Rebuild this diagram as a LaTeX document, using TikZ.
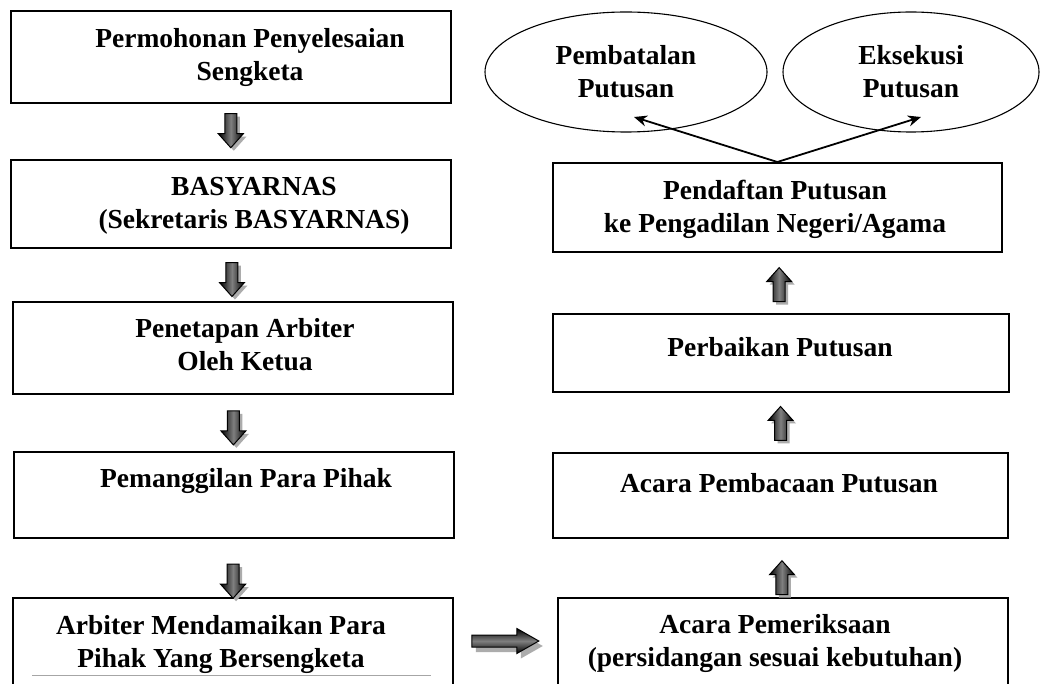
\documentclass[tikz,border=0pt]{standalone}
\usepackage{fontspec}
\setmainfont{Liberation Serif}
\usetikzlibrary{shapes.geometric,calc,arrows.meta}
\newcommand\blockV[2]{%
  \begin{scope}[shift={(#1)}]
    \fill[gray!65, shift={(3,3)}, yscale=#2] (-6,-17) -- (6,-17) -- (6,3) -- (12.5,3) -- (0,17) -- (-12.5,3) -- (-6,3) -- cycle;
    \path[draw=black, line width=1pt, left color=black, right color=black, middle color=black!50, yscale=#2] (-6,-17) -- (6,-17) -- (6,3) -- (12.5,3) -- (0,17) -- (-12.5,3) -- (-6,3) -- cycle;
  \end{scope}}
\newcommand\blockH[1]{%
  \begin{scope}[shift={(#1)}]
    \fill[gray!65, shift={(4,5)}] (-33.5,-6) -- (11.5,-6) -- (11.5,-12.5) -- (33.5,0) -- (11.5,12.5) -- (11.5,6) -- (-33.5,6) -- cycle;
    \path[draw=black, line width=1pt, top color=black, bottom color=black, middle color=black!50] (-33.5,-6) -- (11.5,-6) -- (11.5,-12.5) -- (33.5,0) -- (11.5,12.5) -- (11.5,6) -- (-33.5,6) -- cycle;
  \end{scope}}
\begin{document}
\begin{tikzpicture}[x=1pt,y=-1pt,
  box/.style={draw=black, line width=1.6pt, anchor=north west, inner sep=0pt},
  txt/.style={font=\fontsize{27.5}{33}\selectfont\bfseries, align=center, inner sep=0pt},
  oval/.style={draw=black, ellipse, line width=1.1pt, inner sep=0pt, txt},
  conn/.style={line width=1.8pt, -{Stealth[length=13pt,width=11pt]}}]
\useasboundingbox (0,0) rectangle (1054,684);
\clip (0,0) rectangle (1054,684);
\fill[white] (0,0) rectangle (1054,684);
% left column boxes
\node[box, minimum width=440pt, minimum height=92pt] (L1) at (10,10) {};
\node[box, minimum width=440pt, minimum height=88pt] (L2) at (10,159) {};
\node[box, minimum width=440pt, minimum height=92pt] (L3) at (12,301) {};
\node[box, minimum width=440pt, minimum height=86pt] (L4) at (13,451) {};
\node[box, minimum width=440pt, minimum height=130pt] (L5) at (12,597) {};
% right column boxes
\node[box, minimum width=449pt, minimum height=89pt] (R1) at (552,162) {};
\node[box, minimum width=456pt, minimum height=78pt] (R2) at (552,313) {};
\node[box, minimum width=455pt, minimum height=85pt] (R3) at (552,452) {};
\node[box, minimum width=450pt, minimum height=130pt] (R4) at (557,597) {};
% texts
\node[txt] (T1) at (250,57) {Permohonan Penyelesaian\\Sengketa};
\node[txt] (T2) at (254,206) {BASYARNAS\\(Sekretaris BASYARNAS)};
\node[txt] (T3) at (245,345) {Penetapan Arbiter\\Oleh Ketua};
\node[txt] (T4) at (246,481) {Pemanggilan Para Pihak};
\node[txt] (T5) at (221,644) {Arbiter Mendamaikan Para\\Pihak Yang Bersengketa};
\node[txt] (S1) at (775,209) {Pendaftan Putusan\\ke Pengadilan Negeri/Agama};
\node[txt] (S2) at (780,347) {Perbaikan Putusan};
\node[txt] (S3) at (779,483) {Acara Pembacaan Putusan};
\node[txt] (S4) at (775,643) {Acara Pemeriksaan\\(persidangan sesuai kebutuhan)};
\draw[gray!70, line width=0.8pt] (32,675) -- (431,675);
% ellipses
\node[oval, minimum width=282pt, minimum height=120pt] (E1) at (626,72) {Pembatalan\\Putusan};
\node[oval, minimum width=256pt, minimum height=120pt] (E2) at (911,72) {Eksekusi\\Putusan};
\coordinate (p1) at (634,117);
\coordinate (p2) at (921,117);
\draw[conn] (R1.north) -- (p1);
\draw[conn] (R1.north) -- (p2);
% block arrows
\blockV{$(L1.south)!0.49!(L2.north)$}{1}
\blockV{$(L2.south)!0.59!(L3.north)$}{1}
\blockV{$(L3.south)!0.59!(L4.north)$}{1}
\blockV{$(L4.south)!0.73!(L5.north)$}{1}
\blockV{$(R1.south)!0.53!(R2.north)$}{-1}
\blockV{$(R2.south)!0.52!(R3.north)$}{-1}
\blockV{$(R3.south)!0.67!(R4.north)$}{-1}
\blockH{$(L5.north east)!0.5!(R4.north west)+(0,44)$}
\end{tikzpicture}
\end{document}
